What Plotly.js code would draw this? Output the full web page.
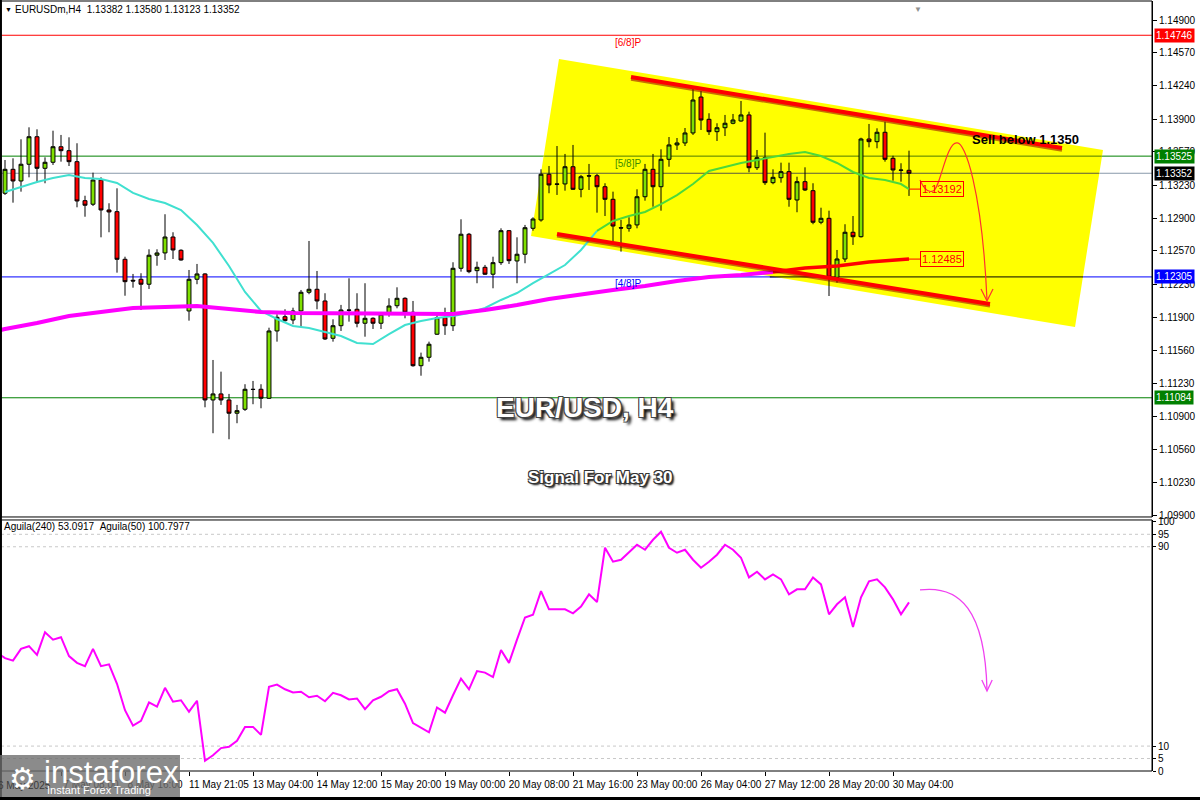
<!DOCTYPE html>
<html><head><meta charset="utf-8">
<script src="https://cdn.plot.ly/plotly-3.0.1.min.js"></script>
<style>html,body{margin:0;padding:0;background:#fff;} #chart{width:1200px;height:800px;}</style>
</head><body><div id="chart"></div>
<script>
const symbol = "EURUSDm,H4";
const openP = [1.13150,1.13392,1.13274,1.13443,1.13721,1.13402,1.13463,1.13620,1.13580,1.13469,
1.13075,1.13039,1.13284,1.12981,1.12964,1.12483,1.12271,1.12281,1.12231,1.12524,
1.12547,1.12708,1.12574,1.11961,1.12281,1.12335,1.11062,1.11123,1.11062,1.10928,
1.10968,1.11170,1.11170,1.11079,1.11759,1.11903,1.11870,1.11961,1.12150,1.12180,
1.12062,1.11685,1.11812,1.11971,1.11978,1.11837,1.11887,1.11837,1.11928,1.12014,
1.12089,1.11948,1.11408,1.11493,1.11726,1.11893,1.11812,1.12392,1.12736,1.12368,
1.12402,1.12332,1.12449,1.12772,1.12466,1.12534,1.12796,1.12880,1.13342,1.13244,
1.13244,1.13418,1.13190,1.13327,1.13327,1.13216,1.13089,1.12802,1.12796,1.12830,
1.13115,1.13392,1.13216,1.13493,1.13638,1.13658,1.13759,1.14122,1.13897,1.13772,
1.13812,1.13857,1.13880,1.13941,1.13408,1.13509,1.13257,1.13307,1.13368,1.13082,
1.13267,1.13176,1.12857,1.12897,1.12301,1.12486,1.12756,1.12711,1.13698,1.13671,
1.13766,1.13503,1.13385,1.13382];
const highP = [1.13486,1.13503,1.13695,1.13816,1.13796,1.13513,1.13782,1.13739,1.13715,1.13655,
1.13125,1.13358,1.13311,1.13049,1.13200,1.12509,1.12335,1.12342,1.12584,1.12584,
1.12938,1.12756,1.12584,1.12375,1.12436,1.12342,1.11466,1.11348,1.11123,1.11012,
1.11221,1.11254,1.11221,1.11792,1.11928,1.11978,1.11994,1.12173,1.12668,1.12365,
1.12140,1.11877,1.12022,1.12291,1.12140,1.12241,1.11897,1.11944,1.12089,1.12200,
1.12099,1.12062,1.11540,1.11651,1.11931,1.11994,1.12453,1.12887,1.12749,1.12459,
1.12426,1.12509,1.12796,1.12779,1.12705,1.12830,1.12907,1.13392,1.13425,1.13627,
1.13547,1.13638,1.13335,1.13446,1.13345,1.13251,1.13166,1.12880,1.12907,1.13190,
1.13446,1.13547,1.13594,1.13718,1.13708,1.13809,1.14213,1.14183,1.13958,1.13857,
1.13941,1.13951,1.14082,1.13974,1.13587,1.13762,1.13392,1.13459,1.13459,1.13317,
1.13412,1.13251,1.13004,1.12974,1.12577,1.12837,1.12920,1.13711,1.13850,1.13806,
1.13873,1.13529,1.13453,1.13580];
const lowP = [1.13133,1.13055,1.13166,1.13311,1.13257,1.13251,1.13436,1.13469,1.13425,1.13008,
1.12913,1.13021,1.12705,1.12756,1.12348,1.12115,1.12196,1.11971,1.12183,1.12418,
1.12476,1.12486,1.12469,1.11863,1.12231,1.10988,1.10726,1.11012,1.10665,1.10827,
1.10951,1.11019,1.10978,1.11072,1.11651,1.11853,1.11827,1.11802,1.12130,1.11978,
1.11668,1.11651,1.11759,1.11853,1.11796,1.11701,1.11779,1.11779,1.11903,1.11988,
1.11887,1.11398,1.11307,1.11449,1.11719,1.11719,1.11759,1.12358,1.12342,1.12241,
1.12325,1.12190,1.12426,1.12436,1.12241,1.12443,1.12772,1.12863,1.13150,1.13133,
1.13176,1.13183,1.13109,1.13183,1.12954,1.12920,1.12661,1.12560,1.12762,1.12796,
1.13075,1.13014,1.12974,1.13418,1.13587,1.13627,1.13739,1.13789,1.13739,1.13678,
1.13728,1.13847,1.13873,1.13362,1.13385,1.13234,1.13241,1.13257,1.13014,1.12958,
1.13173,1.12837,1.12837,1.12112,1.12247,1.12456,1.12628,1.12703,1.13614,1.13604,
1.13469,1.13277,1.13267,1.13123];
const closeP = [1.13392,1.13274,1.13443,1.13721,1.13402,1.13463,1.13620,1.13580,1.13469,1.13072,
1.13029,1.13284,1.12981,1.12961,1.12483,1.12257,1.12264,1.12231,1.12524,1.12547,
1.12708,1.12577,1.12476,1.12281,1.12335,1.11062,1.11123,1.11062,1.10928,1.10954,
1.11170,1.11168,1.11079,1.11759,1.11897,1.11863,1.11961,1.12150,1.12180,1.12062,
1.11678,1.11812,1.11971,1.11968,1.11837,1.11887,1.11837,1.11928,1.12011,1.12089,
1.11948,1.11408,1.11493,1.11625,1.11893,1.11812,1.12392,1.12736,1.12358,1.12402,
1.12332,1.12449,1.12772,1.12469,1.12534,1.12802,1.12890,1.13342,1.13234,1.13241,
1.13418,1.13190,1.13317,1.13324,1.13216,1.13089,1.12819,1.12799,1.12830,1.13115,
1.13392,1.13216,1.13493,1.13638,1.13658,1.13759,1.14092,1.13890,1.13772,1.13812,
1.13857,1.13890,1.13941,1.13408,1.13509,1.13257,1.13311,1.13368,1.13089,1.13267,
1.13183,1.12857,1.12897,1.12301,1.12486,1.12756,1.12711,1.13698,1.13671,1.13766,
1.13493,1.13385,1.13382,1.13352];

// fast moving average (turquoise -> green), read at bar indices
const maFastX = [0,2,4,6,8,10,12,14,16,18,20,22,24,26,28,30,32,34,36,38,40,42,44,46,48,50,52,54,56,58,
60,62,64,66,68,70,72,74,76,78,80,82,84,86,88,90,92,94,96,98,100,102,104,106,108,110,112,113];
const maFastVal = [1.13163,1.13213,1.13264,1.13304,1.13334,1.13304,1.13294,1.13254,1.13153,1.13092,
1.13052,1.12981,1.12829,1.12648,1.12415,1.12153,1.11961,1.11880,1.11809,1.11789,
1.11749,1.11708,1.11637,1.11627,1.11728,1.11819,1.11860,1.11890,1.11910,1.11940,
1.11991,1.12072,1.12142,1.12243,1.12334,1.12425,1.12577,1.12769,1.12870,1.12920,
1.12961,1.13041,1.13132,1.13243,1.13375,1.13415,1.13456,1.13486,1.13516,1.13546,
1.13567,1.13526,1.13456,1.13365,1.13304,1.13284,1.13243,1.13192];
// slow moving average (magenta -> red)
const maSlowX = [-1,0,4,8,12,16,20,24,28,32,36,40,44,48,52,56,60,64,68,72,76,80,84,88,92,96,100,104,108,113];
const maSlowVal = [1.11760,1.11779,1.11839,1.11910,1.11950,1.11991,1.12001,1.12011,1.11981,1.11950,
1.11940,1.11940,1.11940,1.11930,1.11930,1.11930,1.11971,1.12021,1.12082,1.12132,
1.12173,1.12213,1.12264,1.12304,1.12324,1.12355,1.12395,1.12415,1.12456,1.12485];

// Aguila oscillator, one value per bar from bar -1 to bar 113
const aguilaX = [];
for (let i = -1; i <= 113; i++) aguilaX.push(i);
const aguilaVal = [47.5,45.3,44.3,49.0,50.1,46.6,55.7,52.7,53.7,46.1,43.4,42.1,49.0,42.1,42.8,35.0,
24.4,18.2,20.1,27.5,25.8,33.4,27.8,28.4,23.8,28.2,4.1,6.3,9.2,9.7,12.1,17.7,17.7,14.5,
33.8,34.7,32.8,31.5,31.8,29.6,30.2,28.0,31.4,30.4,28.7,29.1,24.8,28.4,29.8,32.0,32.8,27.0,
19.2,17.5,15.5,25.5,23.4,30.4,37.1,32.8,40.1,39.5,37.7,48.6,43.4,52.7,61.6,62.7,72.2,64.9,
64.9,64.9,63.3,66.0,70.9,67.8,89.6,84.0,84.8,87.6,90.8,88.8,92.8,96.0,89.6,87.6,88.8,84.8,
81.6,84.0,86.8,90.8,88.8,85.6,77.7,80.0,76.9,78.9,76.9,70.9,72.9,72.9,77.7,74.9,62.9,66.9,
69.7,57.8,69.7,76.1,76.9,73.7,68.9,62.9,67.7];

const xTickIdx = [7,15,23,31,39,47,55,63,71,79,87,95,103,111];
const xTickText = ["7 May 08:00","8 May 16:00","11 May 21:05","13 May 04:00","14 May 12:00","15 May 20:00",
"19 May 00:00","20 May 08:00","21 May 16:00","23 May 00:00","26 May 04:00","27 May 12:00","28 May 20:00","30 May 04:00"];
const firstDateLabel = "6 May 2025";
const priceTicks = [1.14900,1.14570,1.14240,1.13900,1.13570,1.13230,1.12900,1.12570,1.12230,1.11900,
1.11560,1.11230,1.10900,1.10560,1.10230,1.09900];
const levelValues = [1.14746,1.13525,1.13352,1.12305,1.11084];
const levelNames = ["[6/8]P","[5/8]P","","[4/8]P",""];
const maEndValues = [maFastVal[maFastVal.length-1], maSlowVal[maSlowVal.length-1]];
const oscLevels = [5,10,90,95];
const oscTicks = [0,5,10,90,95,100];
const oscHeader = "Aguila(240) 53.0917\u00a0\u00a0Aguila(50) 100.7977";
const signalText = "Sell below 1.1350";
const titleText = "EUR/USD, H4";
const subtitleText = "Signal For May 30";

// ---------- drawing ----------
const FONT = "'Liberation Sans', Arial, sans-serif";
const barIdx = openP.map((_, i) => i);
const last = closeP.length - 1;
const splitFast = 74, splitSlow = 96;

const traces = [];
traces.push({
  type: 'candlestick', x: barIdx, open: openP, high: highP, low: lowP, close: closeP,
  xaxis: 'x', yaxis: 'y', whiskerwidth: 0, hoverinfo: 'skip',
  increasing: {line: {color: '#000000', width: 1}, fillcolor: '#7FE000'},
  decreasing: {line: {color: '#000000', width: 1}, fillcolor: '#FF0000'}
});
const fA = maFastX.map((x,i)=>[x,maFastVal[i]]).filter(p=>p[0]<=splitFast);
const fB = maFastX.map((x,i)=>[x,maFastVal[i]]).filter(p=>p[0]>=splitFast);
traces.push({type:'scatter', mode:'lines', x:fA.map(p=>p[0]), y:fA.map(p=>p[1]), line:{color:'#40E0D0', width:2}, xaxis:'x', yaxis:'y', hoverinfo:'skip'});
traces.push({type:'scatter', mode:'lines', x:fB.map(p=>p[0]), y:fB.map(p=>p[1]), line:{color:'#4CD93A', width:2}, xaxis:'x', yaxis:'y', hoverinfo:'skip'});
const sA = maSlowX.map((x,i)=>[x,maSlowVal[i]]).filter(p=>p[0]<=splitSlow);
const sB = maSlowX.map((x,i)=>[x,maSlowVal[i]]).filter(p=>p[0]>=splitSlow);
traces.push({type:'scatter', mode:'lines', x:sA.map(p=>p[0]), y:sA.map(p=>p[1]), line:{color:'#FF00FF', width:4}, xaxis:'x', yaxis:'y', hoverinfo:'skip'});
traces.push({type:'scatter', mode:'lines', x:sB.map(p=>p[0]), y:sB.map(p=>p[1]), line:{color:'#FF0000', width:3.5}, xaxis:'x', yaxis:'y', hoverinfo:'skip'});
traces.push({type:'scatter', mode:'lines', x:aguilaX, y:aguilaVal, line:{color:'#FF00FF', width:2}, xaxis:'x', yaxis:'y2', hoverinfo:'skip'});

const lineColors = ['#FF0000','#008000','#8899AA','#0000FF','#008000'];
const inYellowColors = [null,'#4C7A00','#5A5A40',  '#000000', null];
const inYellowSpan = [null,[67.4,137.1],[67.0,136.75],[95.6,134.75],null];
const boxColors = ['#FF0000','#008000','#000000','#0000FF','#008000'];
const textColors = ['#FF0000','#3C8C00','#000000','#0000FF','#008000'];

const shapes = [];
// yellow channel background
shapes.push({type:'path', xref:'x', yref:'y', layer:'below', fillcolor:'#FFFF00', line:{width:0},
  path:'M69.25,1.14506 L137.25,1.13587 L133.75,1.11799 L65.75,1.12718 Z'});
levelValues.forEach((v,i)=>{
  shapes.push({type:'line', xref:'paper', yref:'y', x0:0, x1:1, y0:v, y1:v, layer:'below', line:{color:lineColors[i], width:1}});
  if (inYellowSpan[i]) shapes.push({type:'line', xref:'x', yref:'y', x0:inYellowSpan[i][0], x1:inYellowSpan[i][1], y0:v, y1:v, layer:'below', line:{color:inYellowColors[i], width:1}});
});
// channel lines (shadow + red)
[[78.25,1.14324,132.125,1.13607],[69,1.12739,123.125,1.12032]].forEach(c=>{
  shapes.push({type:'line', xref:'x', yref:'y', x0:c[0], y0:c[1]-0.00022, x1:c[2], y1:c[3]-0.00022, layer:'above', line:{color:'rgba(150,0,0,0.55)', width:3}});
  shapes.push({type:'line', xref:'x', yref:'y', x0:c[0], y0:c[1], x1:c[2], y1:c[3], layer:'above', line:{color:'#FF0000', width:4}});
});
// forecast arrow (price)
shapes.push({type:'path', xref:'x', yref:'y', layer:'above', line:{color:'#FF3030', width:1.2},
  path:'M114.375,1.13284 Q115.125,1.13143 116,1.13173 C116.875,1.13183 117.625,1.13668 119,1.13658 C120,1.13668 122.125,1.13183 122.75,1.12072'});
shapes.push({type:'path', xref:'x', yref:'y', layer:'above', line:{color:'#FF3030', width:1.2},
  path:'M122,1.12183 L122.75,1.12062 L123.5,1.12183'});
// MA end connectors
maEndValues.forEach(v=>{
  shapes.push({type:'line', xref:'x', yref:'y', x0:last, x1:114.4, y0:v, y1:v, layer:'above', line:{color:'#FF0000', width:1}});
});
// oscillator levels
oscLevels.forEach(v=>{
  shapes.push({type:'line', xref:'paper', yref:'y2', x0:0, x1:1, y0:v, y1:v, layer:'below', line:{color:'#C8C8C8', width:1, dash:'3px,3px'}});
});
// forecast arrow (oscillator)
shapes.push({type:'path', xref:'x', yref:'y2', layer:'above', line:{color:'#F040F0', width:1.3},
  path:'M114.375,72.66 C119.375,74.66 122.5,64.6 122.75,32.5'});
shapes.push({type:'path', xref:'x', yref:'y2', layer:'above', line:{color:'#F040F0', width:1.3},
  path:'M122.1,36.5 L122.75,32.1 L123.4,36.5'});
// panel frames
shapes.push({type:'rect', xref:'paper', yref:'paper', x0:0, x1:1, y0:0.3299, y1:1, line:{color:'#000', width:1}, layer:'above'});
shapes.push({type:'rect', xref:'paper', yref:'paper', x0:0, x1:1, y0:0, y1:0.326, line:{color:'#000', width:1}, layer:'above'});
// window border (left and bottom)
shapes.push({type:'rect', xref:'paper', yref:'paper', x0:-0.0012, x1:0.0008, y0:-0.04, y1:1.002, fillcolor:'#000', line:{width:0}, layer:'above'});
shapes.push({type:'rect', xref:'paper', yref:'paper', x0:-0.002, x1:1.05, y0:-0.0377, y1:-0.0338, fillcolor:'#000', line:{width:0}, layer:'above'});
// logo box
shapes.push({type:'rect', xref:'paper', yref:'paper', x0:-0.002, x1:0.1555, y0:-0.0338, y1:0.0208, fillcolor:'rgba(110,110,110,0.8)', line:{width:0}, layer:'above'});

const ann = [];
ann.push({xref:'paper', yref:'paper', x:0.002, y:0.989, xanchor:'left', yanchor:'middle', showarrow:false,
  text:'▼', font:{family:FONT, size:7, color:'#000'}});
ann.push({xref:'paper', yref:'paper', x:0.0105, y:0.989, xanchor:'left', yanchor:'middle', showarrow:false,
  text:symbol+'\u00a0\u00a0'+[openP[last],highP[last],lowP[last],closeP[last]].map(v=>v.toFixed(5)).join(' '),
  font:{family:FONT, size:10, color:'#000'}});
ann.push({xref:'x', yref:'paper', x:114.1, y:0.9975, showarrow:false, text:'▼', font:{family:FONT, size:8, color:'#909090'}});
levelValues.forEach((v,i)=>{
  ann.push({xref:'paper', yref:'y', x:1, xshift:2, y:v, xanchor:'left', yanchor:'middle', showarrow:false,
    text:v.toFixed(5), bgcolor:boxColors[i], borderpad:1, font:{family:FONT, size:10, color:'#FFFFFF'}});
  if (levelNames[i]) ann.push({xref:'x', yref:'y', x:77.9, y:v, yshift:-7, showarrow:false,
    text:levelNames[i], font:{family:FONT, size:10, color:textColors[i]}});
});
maEndValues.forEach(v=>{
  ann.push({xref:'x', yref:'y', x:114.4, y:v, xanchor:'left', yanchor:'middle', showarrow:false,
    text:v.toFixed(5), bordercolor:'#FF0000', borderwidth:1, borderpad:1, font:{family:FONT, size:11, color:'#FF0000'}});
});
ann.push({xref:'x', yref:'y', x:127.5, y:1.13688, showarrow:false, text:'<b>'+signalText+'</b>', font:{family:FONT, size:13, color:'#000'}});
ann.push({xref:'x', yref:'y', x:72.5, y:1.10981, showarrow:false, text:'<b>'+titleText+'</b>',
  font:{family:FONT, size:28, color:'#FFFFFF', shadow:'1px 1px 0 #444, -1px -1px 0 #444, 1px -1px 0 #444, -1px 1px 0 #444, 3px 3px 3px #000'}});
ann.push({xref:'x', yref:'y', x:74.4, y:1.10274, showarrow:false, text:'<b>'+subtitleText+'</b>',
  font:{family:FONT, size:17, color:'#FFFFFF', shadow:'1px 1px 0 #333, -1px -1px 0 #333, 1px -1px 0 #333, -1px 1px 0 #333, 2px 2px 2px #000'}});
ann.push({xref:'paper', yref:'paper', x:0.001, y:0.3175, xanchor:'left', yanchor:'middle', showarrow:false,
  text:oscHeader, font:{family:FONT, size:10, color:'#000'}});
ann.push({xref:'paper', yref:'paper', x:-0.004, y:-0.019, xanchor:'left', yanchor:'middle', showarrow:false,
  text:firstDateLabel, font:{family:FONT, size:10, color:'#3a3a3a'}});
// logo texts
ann.push({xref:'paper', yref:'paper', x:0.005, y:-0.010, xanchor:'left', yanchor:'middle', showarrow:false,
  text:'⚙', font:{family:'DejaVu Sans', size:30, color:'#FFFFFF'}});
ann.push({xref:'paper', yref:'paper', x:0.036, y:-0.0015, xanchor:'left', yanchor:'middle', showarrow:false,
  text:'instaforex', font:{family:FONT, size:31, color:'#FFFFFF'}});
ann.push({xref:'paper', yref:'paper', x:0.038, y:-0.0245, xanchor:'left', yanchor:'middle', showarrow:false,
  text:'Instant Forex Trading', font:{family:FONT, size:11, color:'#FFFFFF'}});

const layout = {
  width:1200, height:800, margin:{l:1, r:48, t:1, b:29},
  paper_bgcolor:'#FFFFFF', plot_bgcolor:'#FFFFFF', showlegend:false,
  font:{family:FONT, size:10, color:'#000'},
  xaxis:{range:[-0.5,143.375], anchor:'y2', tickvals:xTickIdx, ticktext:xTickText, ticks:'outside', ticklen:4,
    tickcolor:'#000', tickfont:{family:FONT, size:10, color:'#000'}, ticklabelshift:30,
    showgrid:false, zeroline:false, showline:false, rangeslider:{visible:false}},
  yaxis:{domain:[0.3299,1], range:[1.09880,1.15092], side:'right', anchor:'x', tickvals:priceTicks,
    ticktext:priceTicks.map(v=>v.toFixed(5)), ticks:'outside', ticklen:4, tickcolor:'#000',
    tickfont:{family:FONT, size:10, color:'#000'}, showgrid:false, zeroline:false, showline:true, linecolor:'#000'},
  yaxis2:{domain:[0,0.326], range:[0,100.75], side:'right', anchor:'x', tickvals:oscTicks,
    ticktext:oscTicks.map(String), ticks:'outside', ticklen:3, tickcolor:'#000',
    tickfont:{family:FONT, size:10, color:'#000'}, showgrid:false, zeroline:false, showline:true, linecolor:'#000'},
  shapes:shapes, annotations:ann
};
Plotly.newPlot('chart', traces, layout, {staticPlot:true, displayModeBar:false});
</script></body></html>
